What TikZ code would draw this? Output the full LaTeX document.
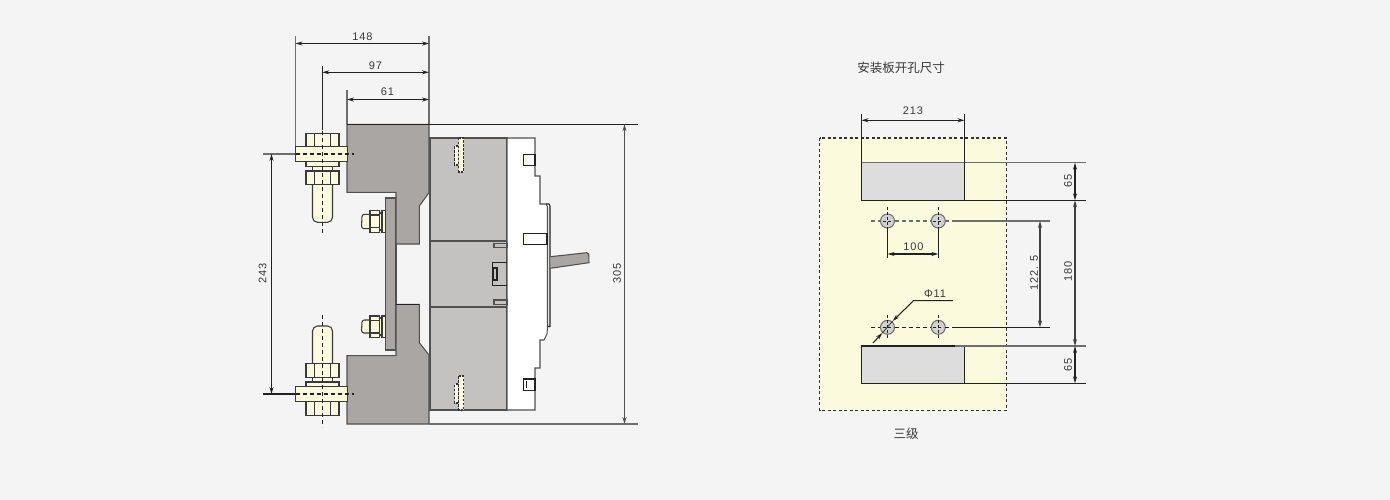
\documentclass[tikz,border=0pt]{standalone}
\usepackage{fontspec}
\setmainfont{Liberation Sans}
\newfontfamily\dimfont[LetterSpace=8]{Liberation Sans}
\newfontfamily\cjk{Noto Sans CJK SC}
\usetikzlibrary{arrows.meta}
\definecolor{bgc}{HTML}{F4F4F4}
\definecolor{steelc}{HTML}{A9A6A4}
\definecolor{bodyc}{HTML}{C3C2C0}
\definecolor{ivoryc}{HTML}{FCFADC}
\definecolor{holec}{HTML}{DEDDDE}
\definecolor{inkc}{HTML}{222222}
\definecolor{softc}{HTML}{6E6E6E}
\tikzset{
  x=1pt,y=-1pt,
  every path/.style={line width=1.05pt},
  ink/.style={draw=inkc},
  soft/.style={draw=softc},
  steel/.style={draw=softc!60!inkc,fill=steelc},
  bodypart/.style={draw=softc!60!inkc,fill=bodyc},
  ivory/.style={draw=inkc!70!softc,fill=ivoryc},
  slot/.style={draw=inkc,fill=white},
  centre/.style={draw=inkc,dash pattern=on 4pt off 3pt},
  hidden/.style={draw=inkc!80!softc,fill=ivoryc,dash pattern=on 2.5pt off 1.5pt},
  dimline/.style={draw=inkc,{Stealth[length=7pt,width=4pt]}-{Stealth[length=7pt,width=4pt]}},
  dimtext/.style={font=\dimfont\fontsize{11}{11}\selectfont,text=inkc!90!white,inner sep=0pt},
  cjktext/.style={font=\cjk\fontsize{12.5}{13}\selectfont,text=inkc!90!white,inner sep=0pt},
}
\begin{document}
\begin{tikzpicture}
\useasboundingbox (0,0) rectangle (1390,500);
\fill[bgc] (0,0) rectangle (1390,500);

% ---- main body
\draw[bodypart] (430,138) rectangle (507,241);
\draw[bodypart] (430,241) rectangle (507,307);
\draw[bodypart] (430,307) rectangle (507,410);
\draw[draw=softc!60!inkc,fill=white] (507,138) -- (535,138) -- (535,176) -- (540,176) -- (540,204)
  -- (546,204) -- (547.5,207) -- (547.5,327) -- (547,334) -- (544,340) -- (540,340) -- (540,368)
  -- (535,368) -- (535,410) -- (507,410) -- cycle;
\draw[ink] (546,204) -- (549,204) -- (550,206) -- (550,326.5) -- (547.5,326.5);

% handle
\draw[steel] (550.3,256.7) -- (586.7,252.7) -- (588.7,254) -- (589,262.7) -- (550.3,268.3);

% slots in the cover
\draw[slot] (523.5,154.3) rectangle (535,165.6);
\fill[ivoryc] (524.5,156) rectangle (526.5,164);
\draw[slot] (523.5,233.5) rectangle (547,244.5);
\fill[ivoryc] (524.5,235) rectangle (526.5,243);
\draw[slot] (523.5,379) rectangle (535,390.3);
\draw[ink] (526.5,381) -- (526.5,388);

% centre details of the body
\draw[draw=softc!60!inkc,fill=bodyc] (494,243.3) rectangle (507,247.7);
\draw[draw=softc!60!inkc,fill=bodyc] (494,300) rectangle (507,304.7);
\draw[ink] (507,262.3) -- (492.7,262.3) -- (492.7,285.3) -- (507,285.3);
\draw[ink] (493,268) rectangle (497,280);

% hidden terminals
\draw[hidden] (458,146) -- (454.5,146) -- (454.5,165) -- (458,165);
\draw[hidden] (458.5,138) rectangle (463.5,172);
\draw[hidden] (458,384) -- (454.5,384) -- (454.5,403) -- (458,403);
\draw[hidden] (458.5,376) rectangle (463.5,410);

% ---- copper bars and plate
\draw[steel] (385.3,198) rectangle (396,350);
\draw[steel] (347,124.3) -- (429,124.3) -- (429,192.7) -- (419.3,206) -- (419.3,244) -- (396,244) -- (396,192.3) -- (347,192.3) -- cycle;
\draw[steel] (396,304.3) -- (419.3,304.3) -- (419.3,342.7) -- (429,355) -- (429,424) -- (347,424) -- (347,355.7) -- (396,355.7) -- cycle;
\draw[ink] (347,124.3) -- (429,124.3);
\draw[ink] (396,304.3) -- (419.3,304.3);

% ---- side bolts
\draw[ivory,rounded corners=2.5pt] (370,214.3) -- (362,214.3) -- (361.5,228.7) -- (370,228.7);
\draw[ivory] (370,210.7) rectangle (379.3,232.3);
\draw[ivory] (370,215) -- (379.3,215) (370,227.7) -- (379.3,227.7);
\draw[ivory] (379.3,213) rectangle (382,230);
\draw[ivory] (382,210.7) rectangle (385.3,232.3);
\draw[ivory,rounded corners=2.5pt] (370,320) -- (362,320) -- (361.5,333) -- (370,333);
\draw[ivory] (370,316) rectangle (379.3,337.7);
\draw[ivory] (370,320.5) -- (379.3,320.5) (370,333) -- (379.3,333);
\draw[ivory] (379.3,318) rectangle (382,335);
\draw[ivory] (382,316) rectangle (385.3,337.7);

% ---- upper stud
\draw[ivory,rounded corners=5pt] (312.5,185) -- (312.5,222.3) -- (332.5,222.3) -- (332.5,185);
\draw[ivory] (312.5,166.5) rectangle (332.5,171);
\draw[ivory] (306,161.3) rectangle (339,166.5);
\draw[ivory] (306,171) rectangle (339,184.7);
\draw[ivory] (314.3,171) -- (314.3,184.7) (330.3,171) -- (330.3,184.7);
\draw[ivory] (306,133.3) rectangle (339,146.3);
\draw[ivory] (314.3,133.3) -- (314.3,146.3) (330.3,133.3) -- (330.3,146.3);
\draw[ivory] (295.5,146.3) rectangle (347.5,161.3);

% ---- lower stud
\draw[ivory,rounded corners=5pt] (312.5,363.3) -- (312.5,326) -- (332.5,326) -- (332.5,363.3);
\draw[ivory] (312.5,377.7) rectangle (332.5,382);
\draw[ivory] (306,382) rectangle (339,386.7);
\draw[ivory] (306,363.3) rectangle (339,377.7);
\draw[ivory] (314.3,363.3) -- (314.3,377.7) (330.3,363.3) -- (330.3,377.7);
\draw[ivory] (306,401.7) rectangle (339,415.5);
\draw[ivory] (314.3,401.7) -- (314.3,415.5) (330.3,401.7) -- (330.3,415.5);
\draw[ivory] (295.5,386.7) rectangle (347.5,401.7);

% ---- stud centre lines
\draw[ink] (322.3,66) -- (322.3,130);
\draw[centre] (322.3,131) -- (322.3,233);
\draw[centre] (322.3,315) -- (322.3,427);
\draw[soft] (263,154) -- (295,154);
\draw[centre] (295.5,154) -- (354,154);
\draw[ink] (263,394) -- (295,394);
\draw[centre] (295.5,394) -- (354,394);

% ---- left dimension lines
\draw[soft] (295.5,36) -- (295.5,146.3);
\draw[soft] (429,36) -- (429,124);
\draw[soft] (347,90) -- (347,124);
\draw[ink] (429,124.3) -- (638,124.3);
\draw[soft] (429,424) -- (638,424);
\coordinate (l148) at (295.5,43.5); \coordinate (r148) at (429,43.5);
\coordinate (l97) at (322.3,72.3);  \coordinate (r97) at (429,72.3);
\coordinate (l61) at (347,99.5);    \coordinate (r61) at (429,99.5);
\coordinate (t243) at (271.5,154);  \coordinate (b243) at (271.5,394);
\coordinate (t305) at (624.5,124.3);\coordinate (b305) at (624.5,424);
\draw[dimline] (l148) -- (r148);
\draw[dimline] (l97) -- (r97);
\draw[dimline] (l61) -- (r61);
\draw[dimline] (t243) -- (b243);
\draw[dimline,draw=softc!60!inkc] (t305) -- (b305);
\node[dimtext] (n148) at (362.5,36.5) {148};
\node[dimtext] (n97) at (375.5,66) {97};
\node[dimtext] (n61) at (387.5,91.5) {61};
\node[dimtext,rotate=90] (n243) at (262.5,273) {243};
\node[dimtext,rotate=90] (n305) at (617,273) {305};

% ---- mounting plate
\draw[fill=ivoryc,draw=inkc!80!softc,dash pattern=on 3pt off 2.5pt] (819.5,138) rectangle (1006.5,410.3);
\draw[ink,fill=holec] (861.5,162.7) rectangle (964.5,200.3);
\draw[ink,fill=holec] (861.5,346) rectangle (964.5,383.3);
\draw[soft,line width=1.2pt] (861.5,162.7) -- (955,162.7);
\draw[soft] (955,162.7) -- (1086,162.7);
\draw[ink] (964.5,200.3) -- (1086,200.3);
\draw[soft,line width=1.2pt] (955,346) -- (1086,346);
\draw[ink] (955,383.3) -- (1086,383.3);
\draw[ink] (861.5,114) -- (861.5,162.7);
\draw[ink] (964.5,114) -- (964.5,162.7);

% holes
\foreach \nm/\cx/\cy/\up/\dn in {ha/887.5/221/14/7,hb/938.3/221/14/7,hc/887.5/327.3/12/12,hd/938.3/327.3/12/12}{
  \node[circle,draw=softc,fill=holec!90!softc,minimum size=14pt,inner sep=0pt] (\nm) at (\cx,\cy) {};
  \draw[inkc,line width=0.7pt,dash pattern=on 3pt off 2pt] (\cx,\cy-\up) -- (\cx,\cy+\dn);
  \draw[inkc,line width=0.7pt,dash pattern=on 3pt off 2pt] (\cx-5,\cy) -- (\cx+5,\cy);
}
\draw[soft,dash pattern=on 4pt off 3pt] (871,221) -- (880,221) (895,221) -- (931,221) (945,221) -- (955,221);
\draw[ink,dash pattern=on 4pt off 3pt] (871,327.3) -- (880,327.3) (895,327.3) -- (931,327.3) (945,327.3) -- (955,327.3);
\draw[soft] (955,221) -- (1050,221);
\draw[ink] (955,327.3) -- (1050,327.3);
\draw[ink] (887.5,228) -- (887.5,258);
\draw[ink] (938.3,228) -- (938.3,258);

% right dimensions
\coordinate (l213) at (861.5,120.3); \coordinate (r213) at (964.5,120.3);
\coordinate (l100) at (887.5,254);   \coordinate (r100) at (938.3,254);
\coordinate (t122) at (1040,221);    \coordinate (b122) at (1040,327.3);
\coordinate (t180) at (1075,200.3);  \coordinate (b180) at (1075,346);
\coordinate (ta65) at (1075,162.7);  \coordinate (ba65) at (1075,200.3);
\coordinate (tb65) at (1075,346);    \coordinate (bb65) at (1075,383.3);
\draw[dimline] (l213) -- (r213);
\draw[dimline] (l100) -- (r100);
\draw[dimline,draw=softc!40!inkc] (t122) -- (b122);
\draw[dimline,draw=softc!40!inkc] (t180) -- (b180);
\draw[dimline] (ta65) -- (ba65);
\draw[dimline] (tb65) -- (bb65);
\node[dimtext] (n213) at (913,110.5) {213};
\node[dimtext] (n100) at (913.5,247) {100};
\node[dimtext,rotate=90] (n122) at (1034,273) {122. 5};
\node[dimtext,rotate=90] (n180) at (1068,271.5) {180};
\node[dimtext,rotate=90] (na65) at (1068,181) {65};
\node[dimtext,rotate=90] (nb65) at (1068,364.5) {65};

% diameter leader
\node[dimtext] (nphi) at (935,293.5) {Φ11};
\coordinate (le) at (953,300.7);
\coordinate (lk) at (913.5,300.7);
\coordinate (lt) at (892.7,321);
\coordinate (lf) at (873,343);
\coordinate (lh) at (882.3,333);
\draw[ink,-{Stealth[length=7pt,width=4pt]}] (le) -- (lk) -- (lt);
\draw[ink,-{Stealth[length=7pt,width=4pt]}] (lf) -- (lh);
\draw[inkc,line width=0.7pt] (lt) -- (lh);

% captions
\node[cjktext] (title) at (901,67.5) {\cjk 安装板开孔尺寸};
\node[cjktext] (cap) at (906,434) {\cjk 三级};
\end{tikzpicture}
\end{document}
